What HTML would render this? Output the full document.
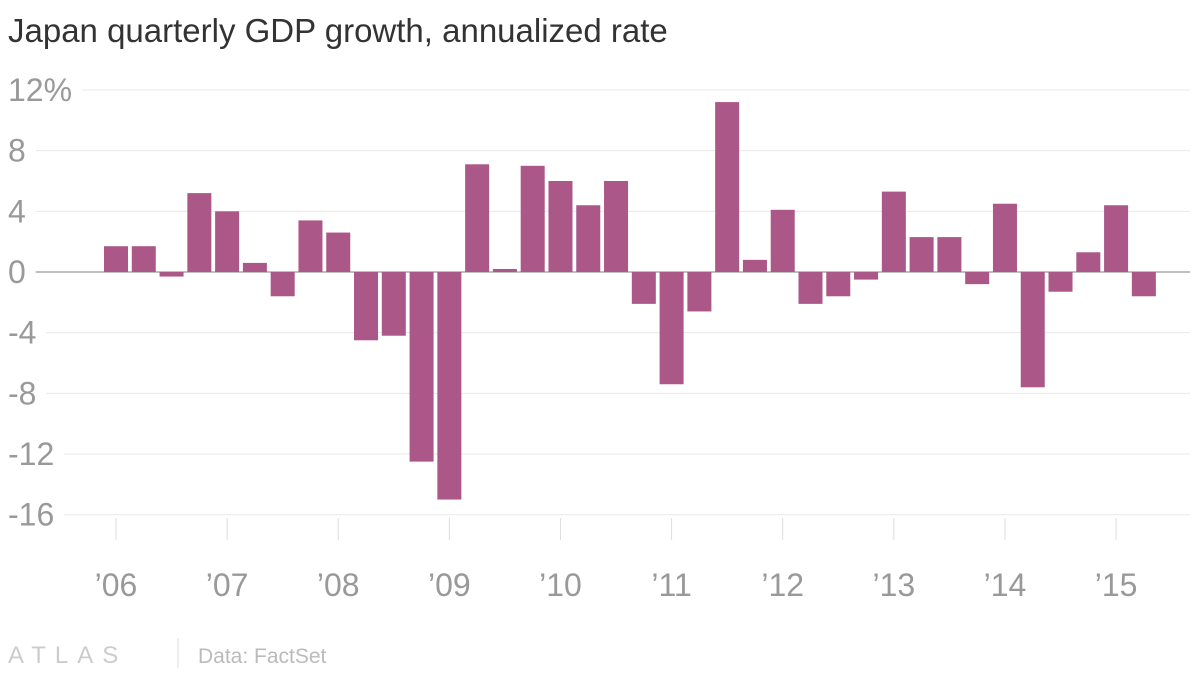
<!DOCTYPE html>
<html><head><meta charset="utf-8"><style>
body{margin:0;background:#fff;width:1200px;height:675px;overflow:hidden;font-family:"Liberation Sans",sans-serif}
</style></head><body>
<svg width="1200" height="675">
<text x="8" y="42" font-size="33" fill="#333">Japan quarterly GDP growth, annualized rate</text>
<g id="grid"></g><g id="bars"></g><g id="xaxis"></g>
<text x="8" y="663" font-size="24" fill="#ccc" letter-spacing="9">ATLAS</text>
<line x1="178" y1="638" x2="178" y2="668" stroke="#ddd"/>
<text x="198" y="663" font-size="21" fill="#bbb">Data: FactSet</text>
</svg>
<script>
const yTicks=[12,8,4,0,-4,-8,-12,-16];
const yTickLabels=["12%","8","4","0","-4","-8","-12","-16"];
const years=["’06","’07","’08","’09","’10","’11","’12","’13","’14","’15"];
const values=[1.7,1.7,-0.3,5.2,4.0,0.6,-1.6,3.4,2.6,-4.5,-4.2,-12.5,-15.0,7.1,0.2,7.0,6.0,4.4,6.0,-2.1,-7.4,-2.6,11.2,0.8,4.1,-2.1,-1.6,-0.5,5.3,2.3,2.3,-0.8,4.5,-7.6,-1.3,1.3,4.4,-1.6];
const NS="http://www.w3.org/2000/svg";
const y=v=>272-v*15.17;
const x=i=>116+i*27.78;
function mk(t,a,p){const e=document.createElementNS(NS,t);for(const k in a)e.setAttribute(k,a[k]);p.appendChild(e);return e;}
const g=document.getElementById('grid');
yTicks.forEach((v,i)=>{
 const t=mk('text',{x:8,y:y(v)+11,'font-size':32,fill:'#999'},g);t.textContent=yTickLabels[i];
 
 
 const w=t.getComputedTextLength();
 const l=mk('line',{x1:8+w+10,x2:1190,y1:y(v),y2:y(v),stroke:v===0?'#999':'#e8e8e8','stroke-width':v===0?1.2:1},g);
 
 
});
const b=document.getElementById('bars');
values.forEach((v,i)=>{
 const r=mk('rect',{x:x(i)-12,width:24,y:Math.min(y(v),y(0)),height:Math.abs(y(v)-y(0)),fill:'#ab5787'},b);
 
 
});
const xa=document.getElementById('xaxis');
years.forEach((s,i)=>{
 const cx=x(i*4);
 const l=mk('line',{x1:cx,x2:cx,y1:518,y2:540,stroke:'#ddd'},xa);
 
 
 const t=mk('text',{x:cx,y:596,'font-size':32,fill:'#999','text-anchor':'middle'},xa);t.textContent=s;
 
 
});
</script>
</body></html>
